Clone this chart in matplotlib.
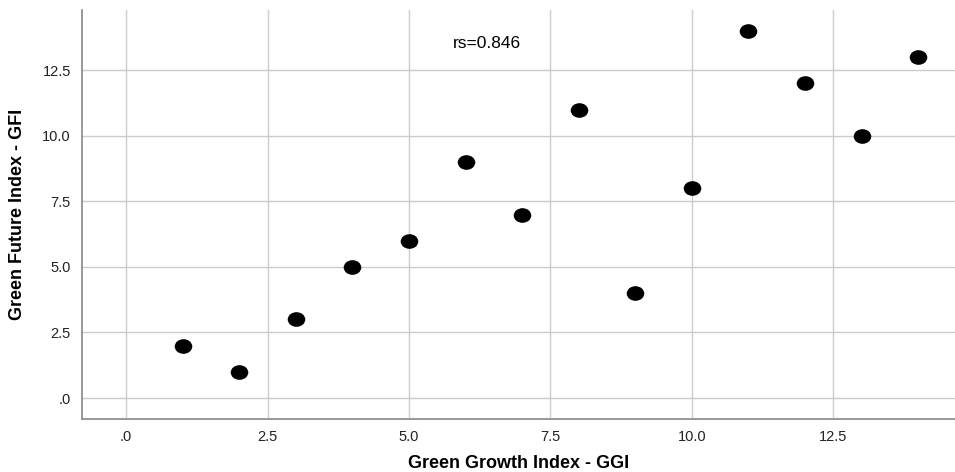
import numpy as np
import matplotlib.pyplot as plt
from matplotlib.ticker import FuncFormatter
from matplotlib.path import Path
from matplotlib.transforms import Affine2D

plt.rcParams['font.family'] = ['Liberation Sans', 'DejaVu Sans']

# data
ggi = [1, 2, 3, 4, 5, 6, 7, 8, 9, 10, 11, 12, 13, 14]
gfi = [2, 1, 3, 5, 6, 9, 7, 11, 4, 8, 14, 12, 10, 13]
x_ticks = [0, 2.5, 5.0, 7.5, 10.0, 12.5]
y_ticks = [0, 2.5, 5.0, 7.5, 10.0, 12.5]
rs_text = "rs=0.846"

def spss_fmt(v, pos):
    s = "%.1f" % v
    if s.startswith("0"):
        s = s[1:]
    return s

# slightly wide dot, like the SPSS markers
oval = Path.unit_circle().transformed(Affine2D().scale(1.2, 1.0))

fig = plt.figure(figsize=(9.55, 4.72), dpi=100)
ax = fig.add_axes([0.0859, 0.1123, 0.9141, 0.8665])

ax.scatter(ggi, gfi, s=160, marker=oval, color='black', zorder=3, linewidths=0)

ax.set_xlim(-0.78, 14.65)
ax.set_ylim(-0.8, 14.8)
ax.set_xticks(x_ticks)
ax.set_yticks(y_ticks)
ax.xaxis.set_major_formatter(FuncFormatter(spss_fmt))
ax.yaxis.set_major_formatter(FuncFormatter(spss_fmt))
ax.tick_params(length=0, labelsize=10.5, colors='#222222', pad=8)

ax.grid(True, color='#cccccc', linewidth=1)
ax.set_axisbelow(True)
for side in ['top', 'right']:
    ax.spines[side].set_visible(False)
for side in ['left', 'bottom']:
    ax.spines[side].set_color('#888888')
    ax.spines[side].set_linewidth(1.2)

ax.set_xlabel("Green Growth Index - GGI", fontsize=13, fontweight='bold', labelpad=8)
ax.set_ylabel("Green Future Index - GFI", fontsize=13, fontweight='bold', labelpad=12)

ax.text(0.464, 0.919, rs_text, transform=ax.transAxes, fontsize=12.5, ha='center', va='center')

fig.savefig("out.png", dpi=100)
